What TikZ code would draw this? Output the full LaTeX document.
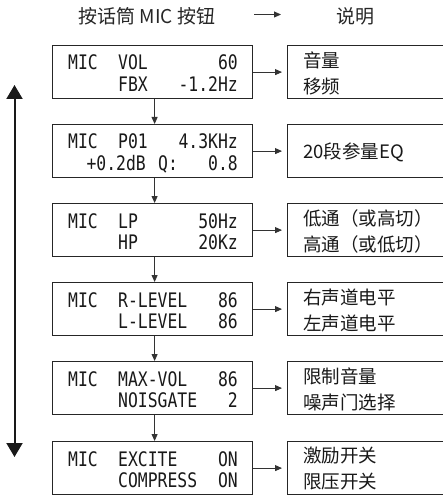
\documentclass[tikz,border=0pt]{standalone}
\usepackage{fontspec}
\setmainfont{Noto Sans CJK SC}
\newfontfamily\cjk{Noto Sans CJK SC}
\newfontfamily\lcdfont[FakeStretch=0.82]{DejaVu Sans Mono}
\usetikzlibrary{arrows.meta}
\tikzset{
  lbox/.style={draw=black!85, line width=1.2pt, minimum width=200pt, minimum height=53pt, inner sep=0pt, anchor=north west},
  rbox/.style={draw=black!85, line width=1.2pt, minimum width=175pt, minimum height=53pt, inner sep=0pt, anchor=north west},
  lcdl/.style={font=\lcdfont\fontsize{20}{20}\selectfont, inner sep=0pt, anchor=base west, text=black!90},
  lcdr/.style={font=\lcdfont\fontsize{20}{20}\selectfont, inner sep=0pt, anchor=base east, text=black!90},
  desc/.style={font=\cjk\fontsize{18.5}{18.5}\selectfont, inner sep=0pt, anchor=west, text=black!90},
  head/.style={font=\cjk\fontsize{19}{19}\selectfont, inner sep=0pt, text=black!85},
  sarrow/.style={draw=black!80, line width=0.8pt, -{Triangle[length=7pt,width=6pt]}},
  bigarrow/.style={draw=black!90, line width=2pt, {Triangle[length=14pt,width=16pt]}-{Triangle[length=14pt,width=16pt]}}
}
\begin{document}
\begin{tikzpicture}[x=1pt,y=-1pt]
\clip (0,0) rectangle (443,497);
\fill[white] (0,0) rectangle (443,497);
% header
\node[head] (h1) at (147,16) {按话筒 MIC 按钮};
\node[head] (h2) at (355,16) {说明};
\coordinate (ha1) at (254,14.5);
\coordinate (ha2) at (281,14.5);
\draw[sarrow] (ha1) -- (ha2);
% left boxes
\node[lbox] (L1) at (52,45) {};
\node[lbox] (L2) at (52,124) {};
\node[lbox] (L3) at (52,203) {};
\node[lbox] (L4) at (52,282) {};
\node[lbox] (L5) at (52,361) {};
\node[lbox] (L6) at (52,441) {};
% right boxes
\node[rbox] (R1) at (287,45) {};
\node[rbox] (R2) at (287,124) {};
\node[rbox] (R3) at (287,203) {};
\node[rbox] (R4) at (287,282) {};
\node[rbox] (R5) at (287,361) {};
\node[rbox] (R6) at (287,441) {};
% row 1
\node[lcdl] (m1) at (68,70) {MIC};
\node[lcdl] (a1) at (118,70) {VOL};
\node[lcdr] (b1) at (238,70) {60};
\node[lcdl] (c1) at (118,92) {FBX};
\node[lcdr] (d1) at (238,92) {-1.2Hz};
% row 2
\node[lcdl] (m2) at (68,149) {MIC};
\node[lcdl] (a2) at (118,149) {P01};
\node[lcdr] (b2) at (238,149) {4.3KHz};
\node[lcdr] (c2) at (146,170) {+0.2dB};
\node[lcdl] (q2) at (158,170) {Q:};
\node[lcdr] (d2) at (238,170) {0.8};
% row 3
\node[lcdl] (m3) at (68,228) {MIC};
\node[lcdl] (a3) at (118,228) {LP};
\node[lcdr] (b3) at (238,228) {50Hz};
\node[lcdl] (c3) at (118,249) {HP};
\node[lcdr] (d3) at (238,249) {20Kz};
% row 4
\node[lcdl] (m4) at (68,307) {MIC};
\node[lcdl] (a4) at (118,307) {R-LEVEL};
\node[lcdr] (b4) at (238,307) {86};
\node[lcdl] (c4) at (118,328) {L-LEVEL};
\node[lcdr] (d4) at (238,328) {86};
% row 5
\node[lcdl] (m5) at (68,386) {MIC};
\node[lcdl] (a5) at (118,386) {MAX-VOL};
\node[lcdr] (b5) at (238,386) {86};
\node[lcdl] (c5) at (118,407) {NOISGATE};
\node[lcdr] (d5) at (238,407) {2};
% row 6
\node[lcdl] (m6) at (68,466) {MIC};
\node[lcdl] (a6) at (118,466) {EXCITE};
\node[lcdr] (b6) at (238,466) {ON};
\node[lcdl] (c6) at (118,487) {COMPRESS};
\node[lcdr] (d6) at (238,487) {ON};
% descriptions
\node[desc] (t1a) at (303,60) {音量};
\node[desc] (t1b) at (303,86) {移频};
\node[desc] (t2a) at (303,152) {20段参量EQ};
\node[desc] (t3a) at (303,218) {低通（或高切）};
\node[desc] (t3b) at (303,244) {高通（或低切）};
\node[desc] (t4a) at (303,297) {右声道电平};
\node[desc] (t4b) at (303,323) {左声道电平};
\node[desc] (t5a) at (303,376) {限制音量};
\node[desc] (t5b) at (303,402) {噪声门选择};
\node[desc] (t6a) at (303,456) {激励开关};
\node[desc] (t6b) at (303,482) {限压开关};
% horizontal arrows
\foreach \i in {1,...,6}{
  \draw[sarrow, shorten >=5pt] (L\i.east) -- (R\i.west);
}
% vertical arrows
\foreach \i/\j in {1/2,2/3,3/4,4/5,5/6}{
  \draw[sarrow] ([xshift=2pt]L\i.south) -- ([xshift=2pt]L\j.north);
}
% long side arrow
\coordinate (st) at (14.5,85);
\coordinate (sb) at (14.5,457);
\draw[bigarrow] (st) -- (sb);
\end{tikzpicture}
\end{document}
